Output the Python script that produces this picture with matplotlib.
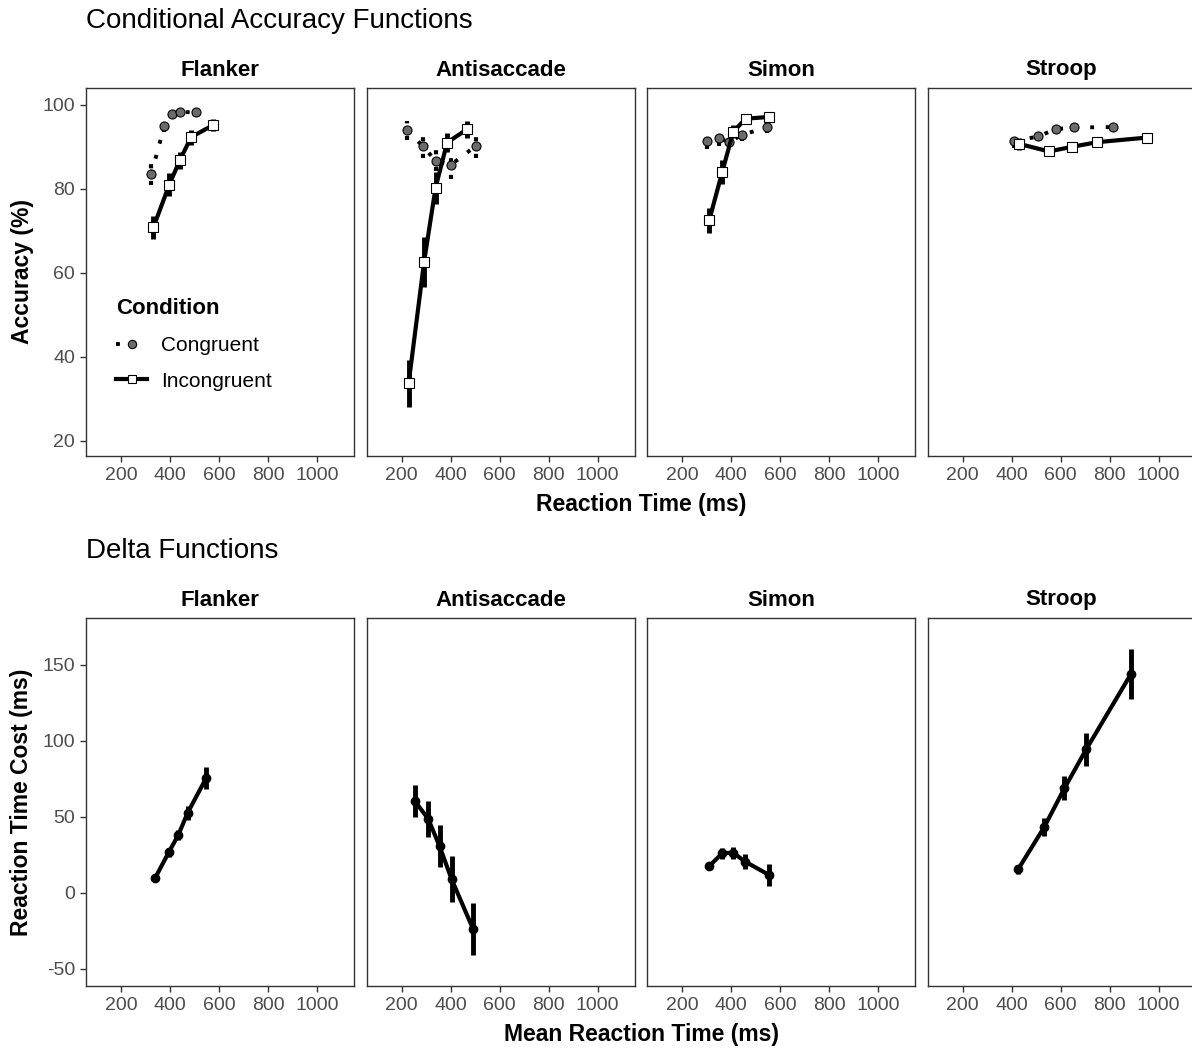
import matplotlib.pyplot as plt
from matplotlib.lines import Line2D
import numpy as np

plt.rcParams['font.family'] = ['Liberation Sans', 'DejaVu Sans']
plt.rcParams['axes.unicode_minus'] = False

tasks = ['Flanker', 'Antisaccade', 'Simon', 'Stroop']

# conditional accuracy functions: mean RT (ms), accuracy (%), error (+/-)
cong_rt = [[324, 377, 407, 441, 506],
           [223, 286, 339, 401, 503],
           [300, 351, 393, 446, 547],
           [412, 510, 580, 657, 814]]
cong_acc = [[83.6, 95.0, 97.8, 98.3, 98.2],
            [93.9, 90.2, 86.7, 85.7, 90.2],
            [91.3, 92.0, 91.1, 92.9, 94.6],
            [91.3, 92.5, 94.2, 94.6, 94.7]]
cong_err = [[2.8, 1.5, 0.5, 0.5, 1.2],
            [2.3, 2.8, 2.5, 3.3, 2.8],
            [1.8, 1.8, 1.0, 1.4, 1.2],
            [1.5, 1.0, 0.8, 0.8, 0.6]]

incong_rt = [[332, 397, 440, 486, 577],
             [229, 292, 339, 386, 468],
             [311, 364, 409, 460, 555],
             [431, 553, 647, 749, 953]]
incong_acc = [[70.8, 81.0, 86.8, 92.3, 95.2],
              [33.7, 62.6, 80.3, 91.0, 94.2],
              [72.5, 84.0, 93.6, 96.7, 97.1],
              [90.7, 88.9, 90.0, 91.1, 92.2]]
incong_err = [[2.8, 2.8, 2.0, 1.8, 1.5],
              [5.6, 6.0, 3.8, 2.2, 2.0],
              [3.0, 2.8, 1.5, 0.8, 0.6],
              [1.5, 1.0, 1.0, 1.0, 0.8]]

# delta functions: mean RT (ms), RT cost (ms), error (+/-)
delta_rt = [[340, 395, 434, 472, 548],
            [254, 309, 355, 404, 492],
            [312, 364, 408, 458, 556],
            [427, 533, 616, 705, 887]]
delta_cost = [[10.1, 26.8, 38.2, 52.8, 75.7],
              [60.5, 48.7, 30.9, 9.2, -23.7],
              [17.8, 26.1, 26.5, 20.6, 11.8],
              [15.6, 43.2, 68.9, 94.5, 143.9]]
delta_err = [[2, 3, 3.5, 4.5, 7],
             [10.4, 12, 13.5, 15, 17],
             [1.5, 3.5, 4, 5, 7.5],
             [3, 6, 8, 11, 16.4]]

W, H = 1192, 1048
fig = plt.figure(figsize=(W / 100, H / 100), dpi=100)

dots = (0, (1, 3))
grey_fill = '#6b6b6b'
spine_col = '#333333'
tick_col = '#4d4d4d'


def px_axes(x0, y0, x1, y1):
    return fig.add_axes([x0 / W, 1 - y1 / H, (x1 - x0) / W, (y1 - y0) / H])


def style(ax, first):
    ax.set_xlim(57, 1151)
    ax.set_xticks([200, 400, 600, 800, 1000])
    for s in ax.spines.values():
        s.set_color(spine_col)
        s.set_linewidth(1.0)
    ax.tick_params(length=4, width=1, color=spine_col, labelcolor=tick_col,
                   labelsize=14, pad=4)
    if not first:
        ax.tick_params(axis='y', left=False, labelleft=False)


lefts = [86, 366.5, 647, 927.5]
pw = 268

for i, task in enumerate(tasks):
    # top row
    ax = px_axes(lefts[i], 88, lefts[i] + pw, 456)
    style(ax, i == 0)
    ax.set_ylim(16.4, 104.0)
    ax.set_yticks([20, 40, 60, 80, 100])
    eb = ax.errorbar(cong_rt[i], cong_acc[i], yerr=cong_err[i], color='black',
                     lw=2.8, ls=dots, marker='o', ms=6.5, mfc=grey_fill,
                     mec='black', mew=0.8, elinewidth=3, capsize=0, zorder=3)
    eb[2][0].set_linestyle(dots)
    ax.errorbar(incong_rt[i], incong_acc[i], yerr=incong_err[i], color='black',
                lw=3, ls='-', marker='s', ms=6.5, mfc='white', mec='black',
                mew=0.8, elinewidth=3.5, capsize=0, zorder=4)
    ax.set_title(task, fontsize=16, fontweight='bold', pad=9)
    if i == 0:
        handles = [Line2D([], [], color='black', lw=2.8, ls=dots, marker='o',
                          ms=6, mfc=grey_fill, mec='black', mew=0.8),
                   Line2D([], [], color='black', lw=3, ls='-', marker='s',
                          ms=6, mfc='white', mec='black', mew=0.8)]
        leg = ax.legend(handles, ['Congruent', 'Incongruent'], title='Condition',
                        frameon=False, fontsize=15, title_fontsize=16,
                        alignment='left', loc='upper left',
                        bbox_to_anchor=(106 / W, 1 - 288 / H),
                        bbox_transform=fig.transFigure, borderpad=0,
                        handlelength=1.45, handletextpad=0.7,
                        labelspacing=0.8, numpoints=1)
        leg.get_title().set_fontweight('bold')

    # bottom row
    ax = px_axes(lefts[i], 618, lefts[i] + pw, 986)
    style(ax, i == 0)
    ax.set_ylim(-61.2, 180.9)
    ax.set_yticks([-50, 0, 50, 100, 150])
    ax.errorbar(delta_rt[i], delta_cost[i], yerr=delta_err[i], color='black',
                lw=3, marker='o', ms=6, elinewidth=3.5, capsize=0, zorder=3)
    ax.set_title(task, fontsize=16, fontweight='bold', pad=9)

fig.text(86 / W, 1 - 21 / H, 'Conditional Accuracy Functions', fontsize=20,
         ha='left', va='center')
fig.text(86 / W, 1 - 551 / H, 'Delta Functions', fontsize=20,
         ha='left', va='center')
fig.text(641 / W, 1 - 504 / H, 'Reaction Time (ms)', fontsize=16.5,
         fontweight='bold', ha='center', va='center')
fig.text(641 / W, 1 - 1034 / H, 'Mean Reaction Time (ms)', fontsize=16.5,
         fontweight='bold', ha='center', va='center')
fig.text(22 / W, 1 - 272 / H, 'Accuracy (%)', fontsize=16.5, fontweight='bold',
         rotation=90, ha='center', va='center')
fig.text(22 / W, 1 - 802 / H, 'Reaction Time Cost (ms)', fontsize=16.5,
         fontweight='bold', rotation=90, ha='center', va='center')

fig.savefig('out.png', dpi=100)
